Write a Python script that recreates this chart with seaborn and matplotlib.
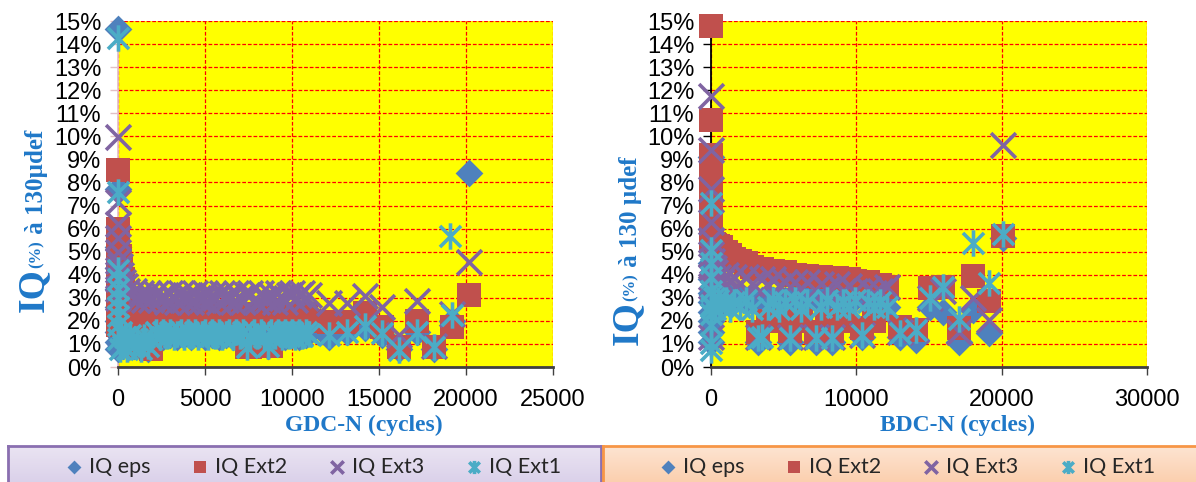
import numpy as np
import pandas as pd
import matplotlib
matplotlib.use("Agg")
import matplotlib.pyplot as plt
import matplotlib.transforms as mtransforms
from matplotlib.path import Path
from matplotlib.ticker import MultipleLocator, PercentFormatter
import seaborn as sns

nan = np.nan

# ---- GDC panel (left) : cycles and IQ values in % ----
gdc_n = [0, 0, 0, 0, 0, 0, 0, 0, 0, 0,
         100, 200, 300, 400, 500, 700, 900, 1100, 1300, 1500, 1700, 1900,
         2200, 2400, 2600, 2800, 3000, 3200, 3400, 3600, 3800, 4000,
         4200, 4400, 4600, 4800, 5000, 5200, 5400, 5600, 5800, 6000,
         6200, 6400, 6600, 6800, 7000, 7200, 7400, 7600, 7800, 8000,
         8200, 8400, 8600, 8800, 9000, 9200, 9400, 9600, 9800, 10000,
         10200, 10400, 10600, 10800, 11000,
         12100, 13150, 14200, 15150, 16150, 17200, 18150, 19100, 19200, 20200]
gdc_eps = [14.65, 7.7, 5.2, 4.3, 3.4, 2.6, 2.0, 1.5, 1.1, 0.8,
           1.0, 1.3, 0.9, 1.5, 1.2, 1.4, 0.9, 1.3, 1.1, 1.4, 0.8, 1.2,
           1.4, 1.6, 1.3, 1.5, 1.4, 1.6, 1.3, 1.5, 1.4, 1.6,
           1.3, 1.5, 1.4, 1.6, 1.3, 1.5, 1.4, 1.6, 1.3, 1.5,
           1.4, 1.6, 1.3, 1.5, 1.4, 1.3, 0.9, 1.5, 1.3, 1.6,
           1.4, 1.5, 0.9, 1.3, 1.5, 1.4, 1.6, 1.3, 1.5, 1.4,
           1.6, 1.3, 1.5, 1.4, 1.5,
           1.3, 1.5, 1.7, 1.4, 0.8, 1.5, 0.8, nan, 2.0, 8.42]
gdc_ext2 = [8.54, 6.0, 5.3, 4.9, 4.5, 4.0, 3.5, 3.0, 2.5, 1.8,
            4.8, 4.4, 3.8, 2.2, 2.8, 2.1, 2.3, 2.0, 0.9, 2.2, 0.85, 0.8,
            2.2, 2.0, 2.3, 2.1, 2.3, 2.0, 2.2, 2.35, 2.1, 2.2,
            2.0, 2.3, 2.1, 2.2, 2.35, 2.0, 2.2, 2.3, 2.1, 2.2,
            2.0, 2.3, 2.1, 2.2, 2.3, 2.1, 0.85, 0.85, 2.2, 2.3,
            2.1, 2.3, 0.9, 0.9, 2.2, 2.1, 2.3, 2.0, 2.2, 2.3,
            2.1, 2.2, 2.0, 2.3, 2.0,
            1.97, 1.97, 2.33, 1.75, 0.88, 2.0, 0.87, nan, 1.75, 3.13]
gdc_ext3 = [9.96, 7.17, 6.2, 5.6, 5.0, 4.6, 4.2, 3.8, 3.4, 3.0,
            4.4, 4.0, 3.7, 3.5, 3.3, 3.1, 3.3, 2.9, 3.2, 2.9, 3.2, 2.9,
            3.2, 2.9, 3.1, 2.8, 3.2, 3.0, 2.8, 3.2, 2.9, 3.1,
            2.8, 3.2, 3.0, 2.9, 3.2, 2.8, 3.1, 3.0, 2.8, 3.2,
            2.9, 3.1, 2.8, 3.2, 3.0, 2.8, 3.1, 3.2, 2.9, 2.8,
            3.2, 3.0, 2.9, 3.1, 2.8, 3.2, 3.0, 2.8, 3.1, 3.2,
            2.9, 3.1, 3.2, 3.0, 3.12,
            2.76, 2.76, 3.08, 2.6, 1.39, 2.87, 0.9, nan, 2.3, 4.54]
gdc_ext1 = [14.25, 7.6, 4.2, 3.8, 3.4, 3.0, 2.6, 2.2, 1.8, 1.2,
            0.8, 1.5, 0.9, 1.3, 0.8, 1.4, 0.9, 1.2, 0.8, 1.3, 0.9, 1.2,
            1.5, 1.3, 1.5, 1.35, 1.5, 1.3, 1.45, 1.5, 1.3, 1.5,
            1.35, 1.5, 1.3, 1.45, 1.5, 1.3, 1.5, 1.35, 1.5, 1.3,
            1.45, 1.5, 1.3, 1.5, 1.35, 1.5, 0.85, 1.3, 1.5, 1.35,
            1.5, 1.3, 0.9, 1.5, 1.35, 1.5, 1.3, 1.5, 1.35, 1.5,
            1.3, 1.5, 1.35, 1.5, 1.45,
            1.39, 1.53, 1.78, 1.49, 0.73, 1.53, 0.87, 5.68, 2.25, nan]

# ---- BDC panel (right) ----
bdc_n = [0, 0, 0, 0, 0, 0, 0, 0, 0, 0,
         100, 200, 300, 500, 700, 1000, 1300, 1600, 2000, 2400, 2800,
         3200, 3500, 3900, 4300, 4700, 5100, 5450, 5800, 6200, 6600, 7200,
         7600, 8000, 8300, 8700, 9100, 9500, 9900, 10400, 10800, 11200, 11600,
         12090, 13010, 14110, 15070, 15990, 17070, 18040, 19130, 20100]
bdc_eps = [9.1, 6.0, 4.5, 3.8, 3.2, 2.8, 2.4, 2.0, 1.5, 1.1,
           3.1, 2.9, 3.0, 2.9, 3.1, 2.9, 3.0, 2.9, 3.0, 2.9, 3.0,
           1.1, 2.9, 3.0, 2.9, 3.0, 2.9, 1.1, 3.0, 2.9, 3.0, 1.1,
           2.9, 3.0, 1.1, 2.9, 3.0, 2.9, 3.0, 1.3, 2.9, 2.8, 2.6,
           2.6, 1.3, 1.17, 2.6, 2.4, 1.1, 2.47, 1.46, 5.6]
bdc_ext2 = [14.8, 10.7, 9.2, 8.6, 8.0, 7.5, 7.0, 6.5, 6.0, 5.6,
            5.4, 5.35, 5.3, 5.25, 5.2, 5.0, 4.85, 4.7, 4.6, 4.5, 4.35,
            1.5, 4.25, 2.0, 4.15, 2.0, 4.1, 1.55, 4.0, 2.0, 3.95, 1.5,
            3.9, 2.0, 1.55, 3.85, 2.0, 3.8, 3.75, 1.68, 3.7, 2.0, 3.55,
            3.48, 1.75, 1.6, 3.41, 3.48, 1.68, 3.96, 2.86, 5.68]
bdc_ext3 = [11.75, 9.4, 7.7, 6.3, 5.5, 4.9, 4.4, 3.9, 3.5, 1.3,
            4.6, 4.3, 4.1, 3.9, 3.7, 4.0, 3.7, 3.9, 3.6, 3.9, 3.6,
            1.3, 3.8, 3.5, 3.8, 3.5, 3.7, 1.3, 3.7, 3.4, 3.7, 1.3,
            3.6, 3.4, 1.3, 3.6, 3.3, 3.5, 3.3, 1.4, 3.4, 3.2, 3.3,
            3.48, 1.5, 1.6, 3.0, 3.3, 1.53, 2.98, 2.04, 9.62]
bdc_ext1 = [7.1, 5.07, 3.9, 3.3, 2.7, 2.3, 1.8, 1.04, 0.74, 4.5,
            2.6, 3.0, 2.5, 2.9, 2.6, 2.9, 2.5, 2.8, 2.6, 2.9, 2.5,
            1.25, 1.3, 2.6, 2.9, 2.5, 2.8, 1.25, 2.9, 2.5, 2.8, 1.25,
            2.6, 2.9, 1.25, 2.6, 2.8, 2.6, 2.9, 1.39, 2.8, 2.6, 2.8,
            2.61, 1.46, 1.6, 2.98, 3.48, 2.1, 5.36, 3.63, 5.75]

labels = ["IQ eps", "IQ Ext2", "IQ Ext3", "IQ Ext1"]

gdc = pd.DataFrame({"n": gdc_n, labels[0]: gdc_eps, labels[1]: gdc_ext2,
                    labels[2]: gdc_ext3, labels[3]: gdc_ext1})
bdc = pd.DataFrame({"n": bdc_n, labels[0]: bdc_eps, labels[1]: bdc_ext2,
                    labels[2]: bdc_ext3, labels[3]: bdc_ext1})

# excel-like asterisk marker
star = Path([(0, -1), (0, 1), (-0.8, -0.8), (0.8, 0.8), (-0.8, 0.8), (0.8, -0.8)],
            [Path.MOVETO, Path.LINETO] * 3)
styles = {
    "IQ eps": dict(marker="D", color="#4F81BD", edgecolor="#4F81BD", s=200, linewidth=0),
    "IQ Ext2": dict(marker="s", color="#C0504D", edgecolor="#C0504D", s=300, linewidth=0),
    "IQ Ext3": dict(marker="x", color="#8064A2", s=320, linewidth=2.6),
    "IQ Ext1": dict(marker=star, color="#4BACC6", edgecolor="#4BACC6", s=360, linewidth=2.6),
}

sns.set_theme(style="white")
plt.rcParams['font.family'] = ['Liberation Sans', 'DejaVu Sans']
blue = "#1F78C8"

fig = plt.figure(figsize=(11.96, 4.82), dpi=100)
ax1 = fig.add_axes([118 / 1196, 115 / 482, 435 / 1196, 346 / 482])
ax2 = fig.add_axes([711 / 1196, 115 / 482, 436 / 1196, 346 / 482])


def panel(ax, df, xmax, xstep, ycol):
    for lab in labels:
        sns.scatterplot(x=df["n"], y=df[lab], ax=ax, label=lab, legend=False,
                        clip_on=False, zorder=3, **styles[lab])
    ax.set_xlim(0, xmax)
    ax.set_ylim(0, 15)
    ax.xaxis.set_major_locator(MultipleLocator(xstep))
    ax.yaxis.set_major_locator(MultipleLocator(1))
    ax.yaxis.set_major_formatter(PercentFormatter(100, decimals=0))
    ax.set_facecolor("#FFFF00")
    ax.grid(True, color="#FF0000", linestyle=(0, (3, 1.5)), linewidth=0.9)
    ax.set_axisbelow(True)
    ax.set_xlabel("")
    ax.set_ylabel("")
    for sp in ["top", "right"]:
        ax.spines[sp].set_visible(False)
    ax.spines["bottom"].set_color("#404040")
    ax.spines["bottom"].set_linewidth(2)
    ax.spines["left"].set_color(ycol)
    ax.tick_params(axis="x", direction="out", length=6, width=1, color="#404040",
                   labelsize=17, pad=10, bottom=True, labelcolor="black")
    ax.tick_params(axis="y", direction="out", length=6, width=1, color=ycol,
                   labelsize=17, pad=6, left=True, labelcolor="black")
    leg = ax.get_legend()
    if leg:
        leg.remove()


panel(ax1, gdc, 25000, 5000, "#E3BFC4")
panel(ax2, bdc, 30000, 10000, "black")
ax2.spines["left"].set_linewidth(1.3)

ident = mtransforms.IdentityTransform()
renderer = fig.canvas.get_renderer()
serif = dict(family="Liberation Serif", weight="bold", color=blue)


def ylabel_parts(y0, parts):
    y = y0
    for txt, x, size in parts:
        t = fig.text(x, y, txt, rotation=90, ha="center", va="bottom",
                     fontsize=size, transform=ident, **serif)
        y = t.get_window_extent(renderer=renderer).y1


ylabel_parts(170, [("IQ", 33, 27), ("(%)", 37, 12), (" à 130µdef", 36, 18)])
ylabel_parts(137, [("IQ", 627, 27), ("(%)", 631, 12), (" à 130 µdef", 631, 18)])

fig.text(364, 57, "GDC-N (cycles)", ha="center", va="center", fontsize=17,
         transform=ident, **serif)
fig.text(957, 57, "BDC-N (cycles)", ha="center", va="center", fontsize=17,
         transform=ident, **serif)


# legend boxes
def legend_box(x0, x1, c_top, c_bot, edge):
    bx = fig.add_axes([x0 / 1196, -4 / 482, (x1 - x0) / 1196, 40 / 482], zorder=-1)
    grad = np.linspace(0, 1, 50)[:, None, None]
    top = np.array(matplotlib.colors.to_rgb(c_top))
    bot = np.array(matplotlib.colors.to_rgb(c_bot))
    img = top * (1 - grad) + bot * grad
    bx.imshow(img, aspect="auto", extent=(0, 1, 0, 1))
    bx.set_xticks([])
    bx.set_yticks([])
    for sp in bx.spines.values():
        sp.set_color(edge)
        sp.set_linewidth(2)
    return bx


legend_box(8, 601, "#EAE4F2", "#D9CFE9", "#8A6FB0")
legend_box(603, 1200, "#FDE4D2", "#FBCDAA", "#F79646")

for ax, xc in [(ax1, 312), (ax2, 906)]:
    handles = ax.collections[:4]
    fig.legend(handles, labels, loc="center", bbox_to_anchor=(xc / 1196, 15 / 482),
               ncol=4, frameon=False, markerscale=0.5, scatterpoints=1,
               handletextpad=0.2, columnspacing=1.8, handlelength=1.0,
               prop=dict(family="Lato", size=15.5))

fig.savefig("out.png", dpi=100)
